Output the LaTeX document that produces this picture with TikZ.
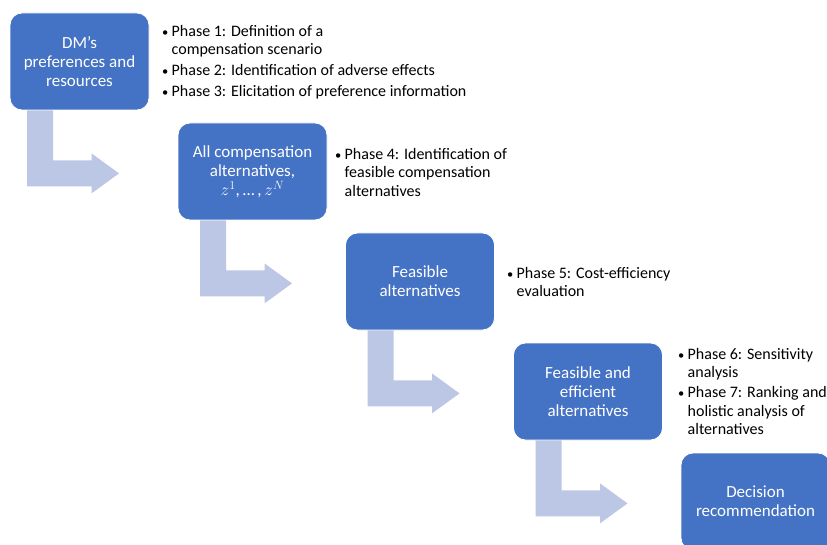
\documentclass[tikz,border=0pt]{standalone}
\usepackage{fontspec}
\setmainfont{Carlito}
\usetikzlibrary{calc, positioning}
\definecolor{boxBlue}{HTML}{4472C4}
\definecolor{arrowBlue}{RGB}{188,199,229}

\tikzset{
  stagebox/.style={rectangle, rounded corners=12pt, fill=boxBlue, draw=white, line width=0.8pt,
    text=white, minimum width=149pt, minimum height=97pt, align=center,
    font=\fontsize{17}{19}\selectfont},
  phasetext/.style={anchor=north west, align=left, inner sep=0pt, font=\fontsize{16}{18.5}\selectfont},
  bentarrow/.style={fill=arrowBlue},
}
\newcommand{\bul}{\makebox[9.5pt][l]{\raisebox{0.2pt}{\fontsize{12.5}{12.5}\selectfont\textbullet}}}
\newcommand{\ind}{\hspace*{9.5pt}}

\begin{document}
\begin{tikzpicture}[x=1pt, y=-1pt]
    \useasboundingbox (0,0) rectangle (827,545);
    \clip (0,0) rectangle (827,545);

    % stages
    \node[stagebox, minimum width=139pt] (dm) at (79.5,61.5) {DM’s\\preferences and\\resources};
    \node[stagebox] (all)  at (252.5,171.5) {All compensation\\alternatives,\\$z^{1}$,\,…\,,\,$z^{N}$};
    \node[stagebox] (feas) at (420,281.5)  {Feasible\\alternatives};
    \node[stagebox] (eff)  at (588,391.5)  {Feasible and\\efficient\\alternatives};
    \node[stagebox] (rec)  at (755.5,501.5) {Decision\\recommendation};

    % bent arrows between stages
    \foreach \b in {dm, all, feas, eff} {
        \fill[bentarrow] ($(\b.south)+(-52.5,0)$) -- ++(26,0) -- ++(0,50) -- ++(38.5,0) -- ++(0,-7)
            -- ++(27.5,20) -- ++(-27.5,20) -- ++(0,-7) -- ++(-64.5,0) -- cycle;
    }

    % phases
    \node[phasetext] (p1) at (162,25) {\bul Phase 1: Definition of a\\ \ind compensation scenario\\[2.5pt]
        \bul Phase 2: Identification of adverse effects\\[2.5pt]
        \bul Phase 3: Elicitation of preference information};
    \node[phasetext] (p4) at (335,148) {\bul Phase 4: Identification of\\ \ind feasible compensation\\ \ind alternatives};
    \node[phasetext] (p5) at (507,267) {\bul Phase 5: Cost-efficiency\\ \ind evaluation};
    \node[phasetext] (p6) at (678,348) {\bul Phase 6: Sensitivity\\ \ind analysis\\[1.5pt]
        \bul Phase 7: Ranking and\\ \ind holistic analysis of\\ \ind alternatives};
\end{tikzpicture}
\end{document}
